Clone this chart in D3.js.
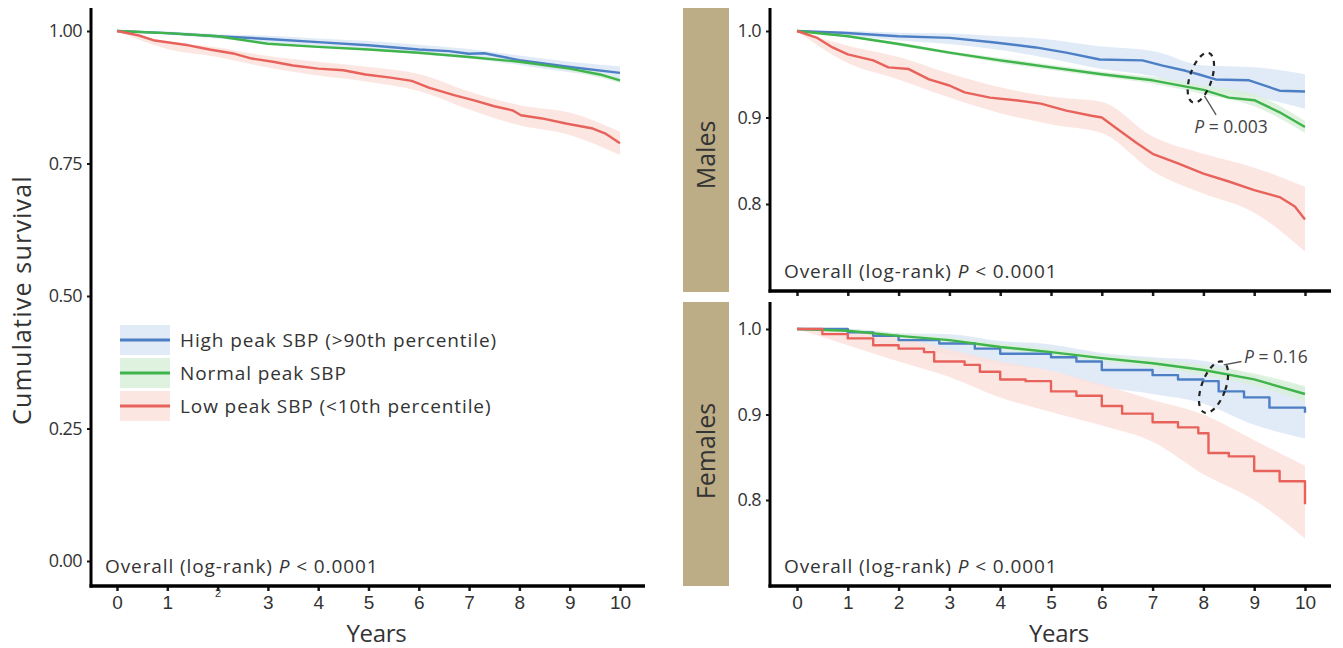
<!DOCTYPE html>
<html><head><meta charset="utf-8">
<script src="https://cdn.jsdelivr.net/npm/d3@7"></script>
<style>
html,body{margin:0;padding:0;background:#fff;}
svg{display:block;font-family:"Open Sans","Liberation Sans",sans-serif;}
</style></head>
<body><svg id="c" width="1343" height="648"></svg>
<script>
// ---------- DATA ----------
const seriesNames = ["High peak SBP (>90th percentile)", "Normal peak SBP", "Low peak SBP (<10th percentile)"];
const seriesColors = ["#4d7fc4", "#3fb44b", "#e8625c"];
const bandColors = ["#dce6f6", "#d9f0db", "#fbe2dd"];
const xTicks = [0,1,2,3,4,5,6,7,8,9,10];
const yTicksOverall = [0, 0.25, 0.5, 0.75, 1.0];
const yTicksSex = [0.8, 0.9, 1.0];
const bandYears = [0,1,2,3,4,5,6,7,8,9,10];

// Overall
const overallHigh = [[0,1],[1,0.996],[2,0.99],[3,0.985],[4,0.979],[5,0.973],[6,0.965],[6.6,0.962],[7,0.957],[7.3,0.958],[8,0.945],[9,0.932],[10,0.921]];
const overallNormal = [[0,1],[1,0.996],[2,0.99],[3,0.976],[4,0.97],[5,0.965],[6,0.959],[7,0.951],[8,0.942],[9,0.929],[9.6,0.918],[10,0.907]];
const overallLow = [[0,1],[0.42,0.992],[0.75,0.982],[1.42,0.973],[1.84,0.965],[2.34,0.957],[2.68,0.948],[3.1,0.942],[3.5,0.935],[4.0,0.929],[4.5,0.926],[4.94,0.918],[5.44,0.912],[5.86,0.906],[6.2,0.893],[6.7,0.879],[7.1,0.869],[7.5,0.858],[7.87,0.85],[8.03,0.841],[8.45,0.835],[8.95,0.825],[9.46,0.816],[9.7,0.807],[10,0.788]];
const overallHighLo = [1,0.993,0.986,0.979,0.972,0.965,0.956,0.948,0.936,0.922,0.909];
const overallHighHi = [1,0.999,0.994,0.991,0.986,0.981,0.974,0.966,0.954,0.942,0.933];
const overallNormalLo = [1,0.995,0.989,0.975,0.968,0.963,0.957,0.949,0.939,0.925,0.902];
const overallNormalHi = [1,0.997,0.991,0.977,0.972,0.967,0.961,0.953,0.945,0.933,0.912];
const overallLowLo = [1,0.966,0.951,0.931,0.916,0.904,0.887,0.852,0.822,0.804,0.766];
const overallLowHi = [1,0.98,0.969,0.953,0.942,0.932,0.919,0.886,0.86,0.846,0.81];

// Males
const malesHigh = [[0,1],[0.89,0.998],[1.99,0.994],[3.0,0.992],[3.85,0.987],[4.7,0.981],[5.3,0.975],[5.96,0.967],[6.8,0.966],[7.2,0.96],[7.65,0.954],[7.9,0.95],[8.24,0.944],[8.9,0.943],[9.5,0.931],[10,0.93]];
const malesNormal = [[0,1],[1,0.994],[2,0.985],[3,0.975],[4,0.966],[5,0.958],[6,0.95],[7,0.943],[8,0.932],[8.5,0.923],[9,0.92],[9.5,0.906],[10,0.889]];
const malesLow = [[0,1],[0.4,0.992],[0.7,0.981],[1.0,0.973],[1.5,0.966],[1.8,0.958],[2.2,0.956],[2.6,0.944],[3.0,0.937],[3.3,0.929],[3.8,0.923],[4.3,0.92],[4.8,0.916],[5.3,0.908],[5.8,0.902],[6.0,0.9],[6.3,0.887],[6.7,0.87],[7.0,0.858],[7.5,0.847],[8.0,0.835],[8.5,0.826],[9.0,0.816],[9.5,0.808],[9.8,0.797],[10,0.782]];
const malesHighLo = [1,0.995,0.989,0.985,0.978,0.968,0.956,0.948,0.932,0.924,0.91];
const malesHighHi = [1,1.0,0.998,0.997,0.994,0.99,0.982,0.977,0.96,0.958,0.95];
const malesNormalLo = [1,0.993,0.983,0.973,0.963,0.955,0.947,0.939,0.927,0.913,0.882];
const malesNormalHi = [1,0.995,0.987,0.977,0.969,0.961,0.953,0.947,0.937,0.927,0.896];
const malesLowLo = [1,0.963,0.944,0.923,0.905,0.892,0.882,0.838,0.812,0.79,0.745];
const malesLowHi = [1,0.983,0.97,0.951,0.935,0.924,0.918,0.878,0.858,0.842,0.82];

// Females
const femalesHigh = [[0,1],[0.5,1.0],[1,0.996],[1.5,0.992],[2,0.987],[2.8,0.983],[3.5,0.977],[4,0.971],[5,0.967],[5.5,0.962],[6,0.952],[7,0.946],[7.5,0.941],[8,0.939],[8.3,0.927],[8.8,0.92],[9.3,0.908],[10,0.902]];
const femalesNormal = [[0,1],[1,0.998],[2,0.992],[3,0.987],[4,0.979],[5,0.973],[6,0.966],[7,0.96],[8,0.952],[9,0.941],[10,0.924]];
const femalesLow = [[0,1],[0.5,0.994],[1.0,0.989],[1.5,0.981],[2.0,0.977],[2.5,0.973],[2.7,0.962],[3.3,0.958],[3.6,0.95],[4.0,0.941],[4.5,0.939],[5.0,0.927],[5.5,0.922],[6.0,0.91],[6.4,0.901],[7.0,0.891],[7.5,0.885],[7.9,0.878],[8.1,0.855],[8.5,0.851],[9.0,0.834],[9.5,0.822],[10,0.795]];
const femalesHighLo = [1,0.991,0.979,0.97,0.958,0.951,0.933,0.924,0.913,0.888,0.872];
const femalesHighHi = [1,1.0,0.995,0.994,0.986,0.982,0.972,0.967,0.963,0.945,0.932];
const femalesNormalLo = [1,0.996,0.99,0.984,0.976,0.969,0.962,0.955,0.946,0.934,0.915];
const femalesNormalHi = [1,1.0,0.995,0.99,0.983,0.977,0.97,0.965,0.958,0.948,0.933];
const femalesLowLo = [1,0.981,0.962,0.944,0.92,0.903,0.887,0.868,0.83,0.8,0.755];
const femalesLowHi = [1,0.996,0.99,0.976,0.962,0.951,0.935,0.917,0.9,0.87,0.84];

// ---------- DRAW ----------
const svg = d3.select("#c");
const INK = "#1a1a1a";
const TXT = "#333";

function panel(cfg){
  const g = svg.append("g");
  const x = d3.scaleLinear().domain([0,10]).range(cfg.xr);
  const y = d3.scaleLinear().domain(cfg.yd).range(cfg.yr);
  const clipId = "clip" + cfg.id;
  svg.append("clipPath").attr("id", clipId).append("rect")
    .attr("x", cfg.axX + 2).attr("y", cfg.top).attr("width", cfg.axRight - cfg.axX).attr("height", cfg.axY - cfg.top - 2);
  const pg = g.append("g").attr("clip-path", `url(#${clipId})`);
  cfg.bands.forEach((b, i) => {
    const area = d3.area().x((d, j) => x(bandYears[j])).y0((d, j) => y(b[0][j])).y1((d, j) => y(b[1][j])).curve(d3.curveMonotoneX);
    pg.append("path").attr("d", area(b[0])).attr("fill", bandColors[i]).attr("opacity", 0.85);
  });
  cfg.lines.forEach((l, i) => {
    const line = d3.line().x(d => x(d[0])).y(d => y(d[1])).curve(cfg.steps && cfg.steps[i] ? d3.curveStepAfter : d3.curveLinear);
    pg.append("path").attr("d", line(l)).attr("fill", "none").attr("stroke", seriesColors[i]).attr("stroke-width", 2.4).attr("stroke-linejoin", "round");
  });
  const ya = g.append("g").attr("transform", `translate(${cfg.axX},0)`)
    .call(d3.axisLeft(y).tickValues(cfg.yTicks).tickSize(4).tickPadding(5).tickFormat(cfg.yFmt));
  ya.select(".domain").remove();
  ya.selectAll("line").attr("stroke", INK).attr("stroke-width", 2);
  ya.selectAll("text").attr("font-size", 18).attr("fill", TXT).attr("font-family", "\"Open Sans\",sans-serif").attr("letter-spacing", "-0.6");
  const xa = g.append("g").attr("transform", `translate(0,${cfg.axY})`)
    .call(d3.axisBottom(x).tickValues(xTicks).tickSize(5).tickPadding(5).tickFormat(cfg.xLabels ? d3.format("d") : ""));
  xa.select(".domain").remove();
  xa.selectAll("line").attr("stroke", INK).attr("stroke-width", 2.5);
  xa.selectAll("text").attr("font-size", 19).attr("fill", TXT);
  if (cfg.smallTwo) {
    xa.selectAll("text").filter(d => d === 2).attr("font-size", 11).attr("dy", "0.1em");
  }
  g.append("line").attr("x1", cfg.axX).attr("x2", cfg.axX).attr("y1", cfg.top).attr("y2", cfg.axY + 1.5).attr("stroke", "#000").attr("stroke-width", 3);
  g.append("line").attr("x1", cfg.axX - 1.5).attr("x2", cfg.axRight).attr("y1", cfg.axY).attr("y2", cfg.axY).attr("stroke", "#000").attr("stroke-width", 3.5);
  const t = g.append("text").attr("x", cfg.axX + 14).attr("y", cfg.axY - 13).attr("font-size", 19).attr("fill", TXT).attr("letter-spacing", "0.9");
  t.append("tspan").text("Overall (log-rank) ");
  t.append("tspan").attr("font-style", "italic").text("P");
  t.append("tspan").text(" < 0.0001");
  if (cfg.xLabels) {
    g.append("text").attr("x", (cfg.xr[0] + cfg.xr[1]) / 2 + 8).attr("y", 642).attr("text-anchor", "middle").attr("font-size", 24).attr("fill", TXT).attr("letter-spacing", "-0.3").text("Years");
  }
  return {g, x, y};
}

// Left overall panel
const L = panel({
  id: "L", xr: [117, 620], yd: [0, 1], yr: [561, 31], axX: 91, axY: 586, top: 8, axRight: 645,
  yTicks: yTicksOverall, yFmt: d3.format(".2f"), xLabels: true, smallTwo: true,
  bands: [[overallHighLo, overallHighHi], [overallNormalLo, overallNormalHi], [overallLowLo, overallLowHi]],
  lines: [overallHigh, overallNormal, overallLow]
});
svg.append("text").attr("transform", "translate(31,300) rotate(-90)").attr("text-anchor", "middle")
  .attr("font-size", 25).attr("fill", TXT).attr("letter-spacing", "1.2").text("Cumulative survival");

// legend
const leg = svg.append("g");
seriesNames.forEach((n, i) => {
  const cy = 340 + i * 33;
  leg.append("rect").attr("x", 120).attr("y", cy - 15).attr("width", 50).attr("height", 30).attr("fill", bandColors[i]).attr("opacity", 0.85);
  leg.append("line").attr("x1", 120).attr("x2", 170).attr("y1", cy).attr("y2", cy).attr("stroke", seriesColors[i]).attr("stroke-width", 2.8);
  leg.append("text").attr("x", 180).attr("y", cy + 7).attr("font-size", 19).attr("fill", TXT).attr("letter-spacing", "0.9").text(n);
});

// Males
const M = panel({
  id: "M", xr: [797, 1305], yd: [0.8, 1.0], yr: [204, 31], axX: 770, axY: 291, top: 8, axRight: 1331,
  yTicks: yTicksSex, yFmt: d3.format(".1f"), xLabels: false,
  bands: [[malesHighLo, malesHighHi], [malesNormalLo, malesNormalHi], [malesLowLo, malesLowHi]],
  lines: [malesHigh, malesNormal, malesLow]
});
// Females
const F = panel({
  id: "F", xr: [797, 1305], yd: [0.8, 1.0], yr: [500, 329], axX: 770, axY: 586, top: 302, axRight: 1331,
  yTicks: yTicksSex, yFmt: d3.format(".1f"), xLabels: true,
  bands: [[femalesHighLo, femalesHighHi], [femalesNormalLo, femalesNormalHi], [femalesLowLo, femalesLowHi]],
  lines: [femalesHigh, femalesNormal, femalesLow], steps: [true, false, true]
});

// strips
const stripColor = "#bcad86";
[["Males", 8, 292, 155], ["Females", 302, 586, 451]].forEach(([lab, y0, y1, cy]) => {
  svg.append("rect").attr("x", 683).attr("y", y0).attr("width", 46).attr("height", y1 - y0).attr("fill", stripColor);
  svg.append("text").attr("transform", `translate(715,${cy}) rotate(-90)`).attr("text-anchor", "middle")
    .attr("font-size", 25).attr("fill", TXT).text(lab);
});

// annotations
function pLabel(x0, y0, val) {
  const t = svg.append("text").attr("x", x0).attr("y", y0).attr("font-size", 17.5).attr("fill", "#444");
  t.append("tspan").attr("font-style", "italic").text("P");
  t.append("tspan").text(" = " + val);
}
svg.append("ellipse").attr("cx", M.x(7.95)).attr("cy", M.y(0.946)).attr("rx", 11).attr("ry", 26)
  .attr("transform", `rotate(18,${M.x(7.95)},${M.y(0.946)})`)
  .attr("fill", "none").attr("stroke", "#222").attr("stroke-width", 2.2).attr("stroke-dasharray", "5,5");
svg.append("line").attr("x1", M.x(8.02)).attr("y1", M.y(0.925)).attr("x2", M.x(8.25)).attr("y2", M.y(0.903)).attr("stroke", "#555").attr("stroke-width", 1.3);
pLabel(M.x(7.82), M.y(0.882), "0.003");
svg.append("ellipse").attr("cx", F.x(8.2)).attr("cy", F.y(0.932)).attr("rx", 12).attr("ry", 27)
  .attr("transform", `rotate(20,${F.x(8.2)},${F.y(0.932)})`)
  .attr("fill", "none").attr("stroke", "#222").attr("stroke-width", 2.2).attr("stroke-dasharray", "5,5");
svg.append("line").attr("x1", F.x(8.4)).attr("y1", F.y(0.958)).attr("x2", F.x(8.75)).attr("y2", F.y(0.962)).attr("stroke", "#555").attr("stroke-width", 1.3);
pLabel(F.x(8.8), F.y(0.96), "0.16");
</script></body></html>
